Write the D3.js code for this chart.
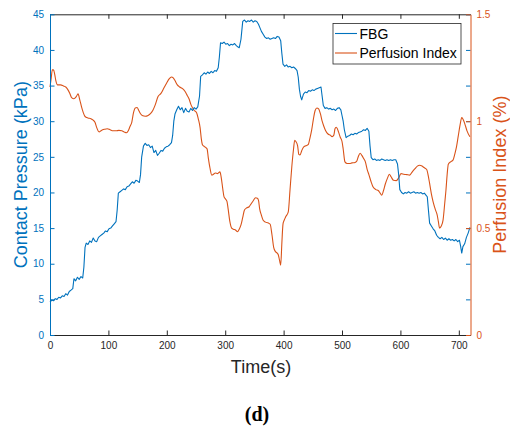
<!DOCTYPE html>
<html>
<head>
<meta charset="utf-8">
<script src="https://cdn.jsdelivr.net/npm/d3@7"></script>
<style>
  html, body { margin: 0; padding: 0; background: #fff; }
  svg { display: block; }
  text { font-family: "Liberation Sans", Arial, Helvetica, sans-serif; }
</style>
</head>
<body>
<svg id="chart" width="510" height="427"></svg>
<script>
// ---- data ----
const fbgTime = [0,3,6,9,12,15,18,21,24,27,30,33,36,39,41,44,47,50,53,56,58,60,62,65,68,71,74,77,80,83,86,89,92,95,98,101,104,107,110,113,115,117,120,123,126,129,132,135,138,141,144,147,150,153,155,157,160,163,166,169,172,175,178,181,184,187,190,193,196,199,202,205,208,210,212,214,217,220,223,226,229,232,235,238,241,244,247,250,253,256,258,261,264,267,270,273,276,279,282,285,288,290,292,295,298,301,304,307,310,313,316,319,322,324,327,330,333,336,339,342,345,348,351,354,357,359,362,365,368,371,374,377,380,383,386,389,392,395,397,399,402,405,408,411,414,417,420,423,425,427,429,431,434,437,440,443,446,449,452,455,458,461,464,466,468,471,474,477,480,483,486,489,492,495,498,500,502,504,507,510,513,516,519,522,525,528,531,534,537,540,543,546,548,550,553,556,559,562,565,568,571,574,577,580,583,586,589,592,595,597,599,602,605,608,611,614,617,620,623,626,629,632,635,638,641,644,646,648,650,653,656,659,662,665,668,671,674,677,680,683,686,689,692,695,698,701,703,705,707,710,713,716,719];
const fbgValue = [4.6,4.9,4.8,5.1,5.0,5.3,5.2,5.5,5.4,5.8,5.6,6.1,6.3,6.5,7.9,7.6,8.1,7.8,8.2,8.0,9.5,12.3,12.9,12.7,13.2,13.0,13.6,13.2,13.1,13.7,13.9,14.1,14.3,14.6,14.5,14.9,15.0,15.3,15.6,15.9,17.5,19.9,20.1,20.3,20.5,20.4,20.8,20.9,21.2,21.5,21.3,21.7,21.6,21.4,22.5,25.0,26.5,26.9,26.6,26.7,26.3,26.5,25.6,25.9,25.2,25.5,25.9,25.8,26.2,26.4,26.5,26.7,27.0,28.0,30.0,31.0,31.6,32.1,31.6,31.9,31.2,31.8,31.4,31.3,31.8,31.5,31.9,31.7,32.0,33.5,36.3,36.5,36.8,36.6,36.9,36.7,37.0,36.8,37.1,37.0,37.5,39.0,41.0,40.9,41.1,40.8,40.9,40.6,40.8,40.7,40.9,40.6,40.4,40.3,41.5,44.0,44.2,43.9,44.1,44.0,44.2,43.9,44.1,44.0,43.6,43.2,42.6,42.2,41.8,41.6,41.7,41.5,41.6,41.7,41.6,41.9,41.8,41.3,39.5,38.0,37.7,37.9,37.6,37.7,37.5,37.6,37.4,37.1,36.2,34.5,33.5,33.0,33.8,34.1,34.0,34.3,34.2,34.4,34.3,34.5,34.6,34.7,34.8,33.5,32.2,31.8,31.9,31.7,31.8,31.6,31.7,31.5,31.8,31.9,31.6,30.8,30.0,28.8,27.7,27.9,28.0,28.2,28.1,28.3,28.2,28.4,28.5,28.6,28.8,28.7,29.0,28.6,26.5,24.9,24.6,24.7,24.5,24.6,24.5,24.7,24.6,24.5,24.6,24.5,24.6,24.5,24.6,24.6,24.0,22.5,20.4,20.0,19.8,20.0,19.9,20.1,19.9,20.0,20.1,19.9,20.0,19.9,20.0,19.8,19.9,19.6,19.4,17.5,15.7,15.3,14.9,14.6,14.0,13.7,13.5,13.7,13.4,13.6,13.3,13.5,13.3,13.4,13.2,13.4,13.1,13.3,12.5,11.5,12.4,12.8,13.7,14.3,15.1];

const piTime = [0,2,4,6,8,10,13,18,23,27,30,34,37,41,45,48,51,54,57,60,65,70,74,77,80,84,88,93,98,103,108,113,118,123,127,131,134,137,140,143,146,149,152,155,159,163,168,172,176,180,185,190,195,200,204,208,211,214,218,222,227,231,235,238,241,244,247,251,254,257,259,261,264,267,269,271,274,277,280,283,287,291,293,296,298,300,303,305,308,311,314,318,321,324,327,330,333,337,341,344,348,352,355,357,359,362,365,369,373,377,380,383,386,389,391,393,395,397,399,401,404,408,411,414,417,419,421,424,426,428,431,434,438,442,445,448,451,454,457,460,463,466,469,472,476,480,483,486,488,490,492,494,497,500,502,505,509,513,517,521,525,528,531,534,537,540,543,546,550,553,558,562,565,568,571,574,578,581,584,588,593,597,601,606,611,616,620,625,629,633,637,641,645,648,650,653,656,660,663,665,667,670,673,676,678,680,682,686,690,693,696,699,702,705,707,710,714,719];
const piValue = [1.16,1.2,1.24,1.24,1.22,1.19,1.17,1.17,1.165,1.16,1.15,1.13,1.11,1.105,1.115,1.128,1.10,1.067,1.04,1.022,1.015,1.012,1.005,0.995,0.97,0.95,0.957,0.962,0.965,0.96,0.955,0.955,0.957,0.955,0.95,0.946,0.955,0.975,0.995,1.04,1.062,1.064,1.05,1.035,1.025,1.023,1.027,1.035,1.05,1.075,1.115,1.13,1.155,1.18,1.198,1.207,1.203,1.19,1.17,1.16,1.152,1.14,1.12,1.105,1.08,1.063,1.05,1.04,1.01,0.97,0.92,0.89,0.882,0.876,0.87,0.83,0.78,0.748,0.752,0.758,0.755,0.763,0.74,0.68,0.646,0.638,0.625,0.59,0.53,0.50,0.495,0.49,0.483,0.495,0.515,0.55,0.585,0.595,0.6,0.612,0.628,0.642,0.64,0.63,0.59,0.56,0.537,0.528,0.525,0.518,0.47,0.41,0.39,0.383,0.374,0.35,0.327,0.43,0.52,0.537,0.555,0.576,0.68,0.786,0.87,0.911,0.905,0.885,0.845,0.842,0.862,0.878,0.885,0.89,0.92,0.958,1.01,1.05,1.062,1.058,1.035,1.0,0.975,0.955,0.94,0.935,0.928,0.935,0.965,0.972,0.965,0.95,0.925,0.905,0.87,0.81,0.802,0.802,0.805,0.806,0.812,0.835,0.85,0.84,0.826,0.81,0.775,0.75,0.715,0.693,0.68,0.676,0.665,0.654,0.675,0.705,0.735,0.752,0.74,0.724,0.722,0.735,0.755,0.752,0.75,0.748,0.762,0.778,0.79,0.794,0.79,0.782,0.774,0.74,0.709,0.66,0.623,0.585,0.561,0.53,0.5,0.51,0.537,0.62,0.678,0.75,0.799,0.81,0.818,0.845,0.88,0.93,0.98,1.017,1.01,0.99,0.955,0.927];

const xTicks = [0,100,200,300,400,500,600,700];
const yLeftTicks = [0,5,10,15,20,25,30,35,40,45];
const yRightTicks = [0,0.5,1,1.5];
const seriesNames = ["FBG","Perfusion Index"];
const labels = { x: "Time(s)", yLeft: "Contact Pressure (kPa)", yRight: "Perfusion Index (%)", caption: "(d)" };

// ---- layout ----
const blue = "#0072BD", orange = "#D95319", dark = "#262626";
const L = 50, R = 470.5, T = 14.3, B = 335;
const svg = d3.select("#chart");

const x = d3.scaleLinear().domain([0, 720]).range([L, R]);
const yL = d3.scaleLinear().domain([0, 45]).range([B, T]);
const yR = d3.scaleLinear().domain([0, 1.5]).range([B, T]);

// lines
const fbg = fbgTime.map((t, i) => [t, fbgValue[i]]);
const pi = piTime.map((t, i) => [t, piValue[i]]);

svg.append("path").datum(pi)
  .attr("fill", "none").attr("stroke", orange).attr("stroke-width", 1.1)
  .attr("stroke-linejoin", "round")
  .attr("d", d3.line().x(d => x(d[0])).y(d => yR(d[1])).curve(d3.curveMonotoneX));

svg.append("path").datum(fbg)
  .attr("fill", "none").attr("stroke", blue).attr("stroke-width", 1.1)
  .attr("stroke-linejoin", "round")
  .attr("d", d3.line().x(d => x(d[0])).y(d => yL(d[1])));

// axes
const tl = 4.5;
// bottom
const gB = svg.append("g").attr("transform", `translate(0,${B})`)
  .call(d3.axisBottom(x).tickValues(xTicks).tickSizeInner(-tl).tickSizeOuter(0).tickPadding(7));
gB.select(".domain").attr("stroke", dark);
gB.selectAll(".tick line").attr("stroke", dark);
gB.selectAll(".tick text").attr("fill", dark).style("font-size", "10px").attr("dy", "0.71em");
// top
const gT = svg.append("g").attr("transform", `translate(0,${T})`)
  .call(d3.axisTop(x).tickValues(xTicks).tickSizeInner(-tl).tickSizeOuter(0).tickFormat(""));
gT.select(".domain").attr("stroke", dark);
gT.selectAll(".tick line").attr("stroke", dark);
// left
const gL = svg.append("g").attr("transform", `translate(${L},0)`)
  .call(d3.axisLeft(yL).tickValues(yLeftTicks).tickSizeInner(-tl).tickSizeOuter(0).tickPadding(6));
gL.select(".domain").attr("stroke", blue);
gL.selectAll(".tick line").attr("stroke", blue);
gL.selectAll(".tick text").attr("fill", blue).style("font-size", "10px");
// right (left-axis ticks mirrored)
const gR2 = svg.append("g").attr("transform", `translate(${R},0)`)
  .call(d3.axisRight(yL).tickValues(yLeftTicks).tickSizeInner(-tl).tickSizeOuter(0).tickFormat(""));
gR2.select(".domain").remove();
gR2.selectAll(".tick line").attr("stroke", blue);
// right axis
const gR = svg.append("g").attr("transform", `translate(${R},0)`)
  .call(d3.axisRight(yR).tickValues(yRightTicks).tickSizeInner(-tl).tickSizeOuter(0).tickPadding(6)
    .tickFormat(d3.format("")));
gR.select(".domain").attr("stroke", orange);
gR.selectAll(".tick line").attr("stroke", orange);
gR.selectAll(".tick text").attr("fill", orange).style("font-size", "10px");

// axis labels
svg.append("text").attr("transform", `translate(27,${(T + B) / 2}) rotate(-90)`)
  .attr("text-anchor", "middle").attr("fill", blue).style("font-size", "18px").text(labels.yLeft);
svg.append("text").attr("transform", `translate(505.5,${(T + B) / 2}) rotate(-90)`)
  .attr("text-anchor", "middle").attr("fill", orange).style("font-size", "18px").text(labels.yRight);
svg.append("text").attr("x", 261).attr("y", 373)
  .attr("text-anchor", "middle").attr("fill", dark).style("font-size", "18px").text(labels.x);
svg.append("text").attr("x", 257).attr("y", 421)
  .attr("text-anchor", "middle").attr("fill", "#000")
  .style("font-family", "'Liberation Serif', 'Times New Roman', serif")
  .style("font-weight", "bold").style("font-size", "20px").text(labels.caption);

// legend
const lg = svg.append("g");
lg.append("rect").attr("x", 333).attr("y", 23.5).attr("width", 128).attr("height", 40.5)
  .attr("fill", "#fff").attr("stroke", dark).attr("stroke-width", 0.8);
const legendColors = [blue, orange];
seriesNames.forEach((name, i) => {
  const yy = 33.5 + i * 19.5;
  lg.append("line").attr("x1", 335).attr("x2", 357).attr("y1", yy).attr("y2", yy)
    .attr("stroke", legendColors[i]).attr("stroke-width", 1.1);
  lg.append("text").attr("x", 359.5).attr("y", yy + 5).attr("fill", "#000")
    .style("font-size", "14px").text(name);
});
</script>
</body>
</html>
